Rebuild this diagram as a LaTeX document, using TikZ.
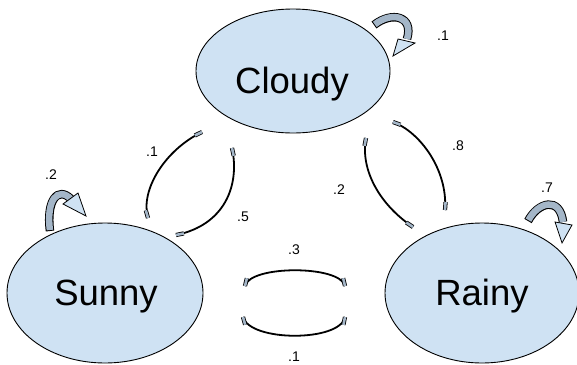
\documentclass[tikz,border=0pt]{standalone}
\usepackage{fontspec}
\setmainfont{Liberation Sans}
\usetikzlibrary{shapes.geometric,calc}
\begin{document}
\begin{tikzpicture}[x=1pt,y=-1pt,
  state/.style={ellipse, draw=black, line width=0.9pt, fill=stfill, inner sep=0pt},
  stname/.style={font=\fontsize{36.5}{36.5}\selectfont, inner sep=0pt},
  prob/.style={font=\fontsize{14}{14}\selectfont, inner sep=0pt},
  pairline/.style={draw=black, line width=1.8pt},
  pairtab/.style={draw=black, line width=0.8pt, double=bandfill, double distance=2.6pt},
  bandout/.style={draw=black, line width=8.5pt},
  bandin/.style={draw=bandfill, line width=6.5pt, shorten <=1pt},
  headtri/.style={draw=black, line width=0.8pt, fill=stfill, line join=miter}
]
\definecolor{stfill}{HTML}{CFE2F3}
\definecolor{bandfill}{HTML}{A4B6C8}
\useasboundingbox (0,0) rectangle (577,364);

\newcommand{\pairarc}[4]{%
  \draw[pairline] (#1) .. controls (#3) and (#4) .. (#2);
  \draw[pairtab] ($(#1)!8pt!(#3)$) -- (#1);
  \draw[pairtab] ($(#2)!8pt!(#4)$) -- (#2);
}

% states
\node[state, minimum width=194pt, minimum height=124pt] (cloudy) at (293,71) {};
\node[stname, anchor=base] (cloudyt) at (292,93) {Cloudy};
\node[state, minimum width=196pt, minimum height=140pt] (sunny) at (105,293) {};
\node[stname, anchor=base] (sunnyt) at (106,305) {Sunny};
\node[state, minimum width=194pt, minimum height=140pt] (rainy) at (482,293) {};
\node[stname, anchor=base] (rainyt) at (482,305) {Rainy};

% self loop Cloudy
\coordinate (cl0) at (374,25);
\coordinate (cl1) at (407,39);
\draw[bandout] (cl0) .. controls (392,11) and (414,16) .. (cl1);
\draw[bandin] (cl0) .. controls (392,11) and (414,16) .. (cl1);
\coordinate (clh1) at (398,39);
\coordinate (clh2) at (415,43);
\coordinate (clht) at (393,56);
\draw[headtri] (clh1) -- (clh2) -- (clht) -- cycle;

% self loop Sunny
\coordinate (sl0) at (50,231);
\coordinate (sl1) at (71,199);
\draw[bandout] (sl0) .. controls (46,200) and (58,186) .. (sl1);
\draw[bandin] (sl0) .. controls (46,200) and (58,186) .. (sl1);
\coordinate (slh1) at (63,204);
\coordinate (slh2) at (78,193);
\coordinate (slht) at (86,216);
\draw[headtri] (slh1) -- (slh2) -- (slht) -- cycle;

% self loop Rainy
\coordinate (rl0) at (528,221);
\coordinate (rl1) at (563,222);
\draw[bandout] (rl0) .. controls (538,202) and (560,196) .. (rl1);
\draw[bandin] (rl0) .. controls (538,202) and (560,196) .. (rl1);
\coordinate (rlh1) at (555,222);
\coordinate (rlh2) at (572,225);
\coordinate (rlht) at (562,243);
\draw[headtri] (rlh1) -- (rlh2) -- (rlht) -- cycle;

% Cloudy - Sunny
\coordinate (cs1a) at (202,132); \coordinate (cs1b) at (148,218);
\coordinate (cs1c) at (165,150); \coordinate (cs1d) at (140,190);
\pairarc{cs1a}{cs1b}{cs1c}{cs1d}
\coordinate (cs2a) at (232,148); \coordinate (cs2b) at (176,235);
\coordinate (cs2c) at (240,185); \coordinate (cs2d) at (225,225);
\pairarc{cs2a}{cs2b}{cs2c}{cs2d}

% Cloudy - Rainy
\coordinate (cr1a) at (366,138); \coordinate (cr1b) at (413,227);
\coordinate (cr1c) at (360,170); \coordinate (cr1d) at (380,205);
\pairarc{cr1a}{cr1b}{cr1c}{cr1d}
\coordinate (cr2a) at (393,122); \coordinate (cr2b) at (445,210);
\coordinate (cr2c) at (420,132); \coordinate (cr2d) at (448,170);
\pairarc{cr2a}{cr2b}{cr2c}{cr2d}

% Sunny - Rainy
\coordinate (sr1a) at (245,286); \coordinate (sr1b) at (345,286);
\coordinate (sr1c) at (250,265); \coordinate (sr1d) at (340,265);
\pairarc{sr1a}{sr1b}{sr1c}{sr1d}
\coordinate (sr2a) at (243,317); \coordinate (sr2b) at (345,317);
\coordinate (sr2c) at (250,342); \coordinate (sr2d) at (340,342);
\pairarc{sr2a}{sr2b}{sr2c}{sr2d}

% probabilities
\node[prob] (p1) at (443,36) {.1};
\node[prob] (p2) at (51,175) {.2};
\node[prob] (p3) at (152,152) {.1};
\node[prob] (p4) at (243,217) {.5};
\node[prob] (p5) at (339,190) {.2};
\node[prob] (p6) at (458,146) {.8};
\node[prob] (p7) at (547,188) {.7};
\node[prob] (p8) at (294,250) {.3};
\node[prob] (p9) at (294,357) {.1};
\end{tikzpicture}
\end{document}
